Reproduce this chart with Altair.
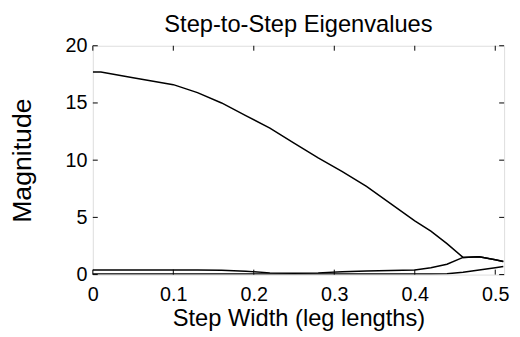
import altair as alt
import pandas as pd

step_width = [0.0, 0.01, 0.05, 0.10, 0.13, 0.16, 0.19, 0.22, 0.25, 0.28, 0.31,
              0.34, 0.37, 0.40, 0.42, 0.44, 0.46, 0.48, 0.50, 0.51]
eig1 = [17.7, 17.7, 17.2, 16.6, 15.9, 15.0, 13.9, 12.8, 11.5, 10.2, 9.0,
        7.7, 6.2, 4.7, 3.8, 2.7, 1.5, 1.55, 1.3, 1.15]
eig2 = [0.40, 0.40, 0.40, 0.40, 0.40, 0.38, 0.30, 0.15, 0.12, 0.15, 0.25,
        0.32, 0.35, 0.40, 0.60, 0.90, 1.5, 1.55, 1.3, 1.15]
eig3 = [0.05, 0.05, 0.05, 0.05, 0.05, 0.05, 0.05, 0.05, 0.05, 0.05, 0.05,
        0.05, 0.05, 0.05, 0.05, 0.08, 0.20, 0.40, 0.60, 0.70]
x_ticks = [0, 0.1, 0.2, 0.3, 0.4, 0.5]
y_ticks = [0, 5, 10, 15, 20]

rows = []
for name, vals in [("e1", eig1), ("e2", eig2), ("e3", eig3)]:
    for xv, yv in zip(step_width, vals):
        rows.append({"x": xv, "y": yv, "s": name})
df = pd.DataFrame(rows)

W, H = 417, 232
FONT = "Liberation Sans"

xs = alt.Scale(domain=[0, 0.511], nice=False, zero=False)
ys = alt.Scale(domain=[0, 20], nice=False)

lines = alt.Chart(df).mark_line(color="black", strokeWidth=1.5, clip=True).encode(
    x=alt.X("x:Q", scale=xs, title="Step Width (leg lengths)",
            axis=alt.Axis(values=x_ticks, format="~g", tickSize=0, domain=False,
                          grid=False, labelPadding=10, labelFontSize=20,
                          titleFontSize=24, titleFontWeight="normal",
                          labelColor="black", titleColor="black",
                          labelFont=FONT, titleFont=FONT, titlePadding=3,
                          labelFlush=False)),
    y=alt.Y("y:Q", scale=ys, title="Magnitude",
            axis=alt.Axis(values=y_ticks, tickSize=0, domain=False, grid=False,
                          labelPadding=6, labelFontSize=20, titleFontSize=27,
                          titleFontWeight="normal", labelColor="black",
                          titleColor="black", labelFont=FONT, titleFont=FONT,
                          titlePadding=29)),
    detail="s:N",
)

xt = pd.DataFrame({"t": x_ticks})
yt = pd.DataFrame({"t": y_ticks})

xtick_bot = alt.Chart(xt).mark_rule(color="black", strokeWidth=1).encode(
    x=alt.X("t:Q", scale=xs), y=alt.value(H), y2=alt.value(H - 5))
xtick_top = alt.Chart(xt).mark_rule(color="black", strokeWidth=1).encode(
    x=alt.X("t:Q", scale=xs), y=alt.value(0), y2=alt.value(5))
ytick_l = alt.Chart(yt).mark_rule(color="black", strokeWidth=1).encode(
    y=alt.Y("t:Q", scale=ys), x=alt.value(0), x2=alt.value(5))
ytick_r = alt.Chart(yt).mark_rule(color="black", strokeWidth=1).encode(
    y=alt.Y("t:Q", scale=ys), x=alt.value(W), x2=alt.value(W - 5))

chart = alt.layer(lines, xtick_bot, xtick_top, ytick_l, ytick_r).properties(
    width=W, height=H,
    title=alt.TitleParams("Step-to-Step Eigenvalues", fontSize=24,
                          fontWeight="normal", font=FONT, color="black",
                          offset=3, dy=4),
    autosize=alt.AutoSizeParams(type="none"),
    padding={"left": 86, "top": 36, "right": 8, "bottom": 61},
).configure_view(stroke="black", strokeWidth=1.5).configure(background="white")

chart.save("out.html", embed_options={"renderer": "svg", "actions": False})
